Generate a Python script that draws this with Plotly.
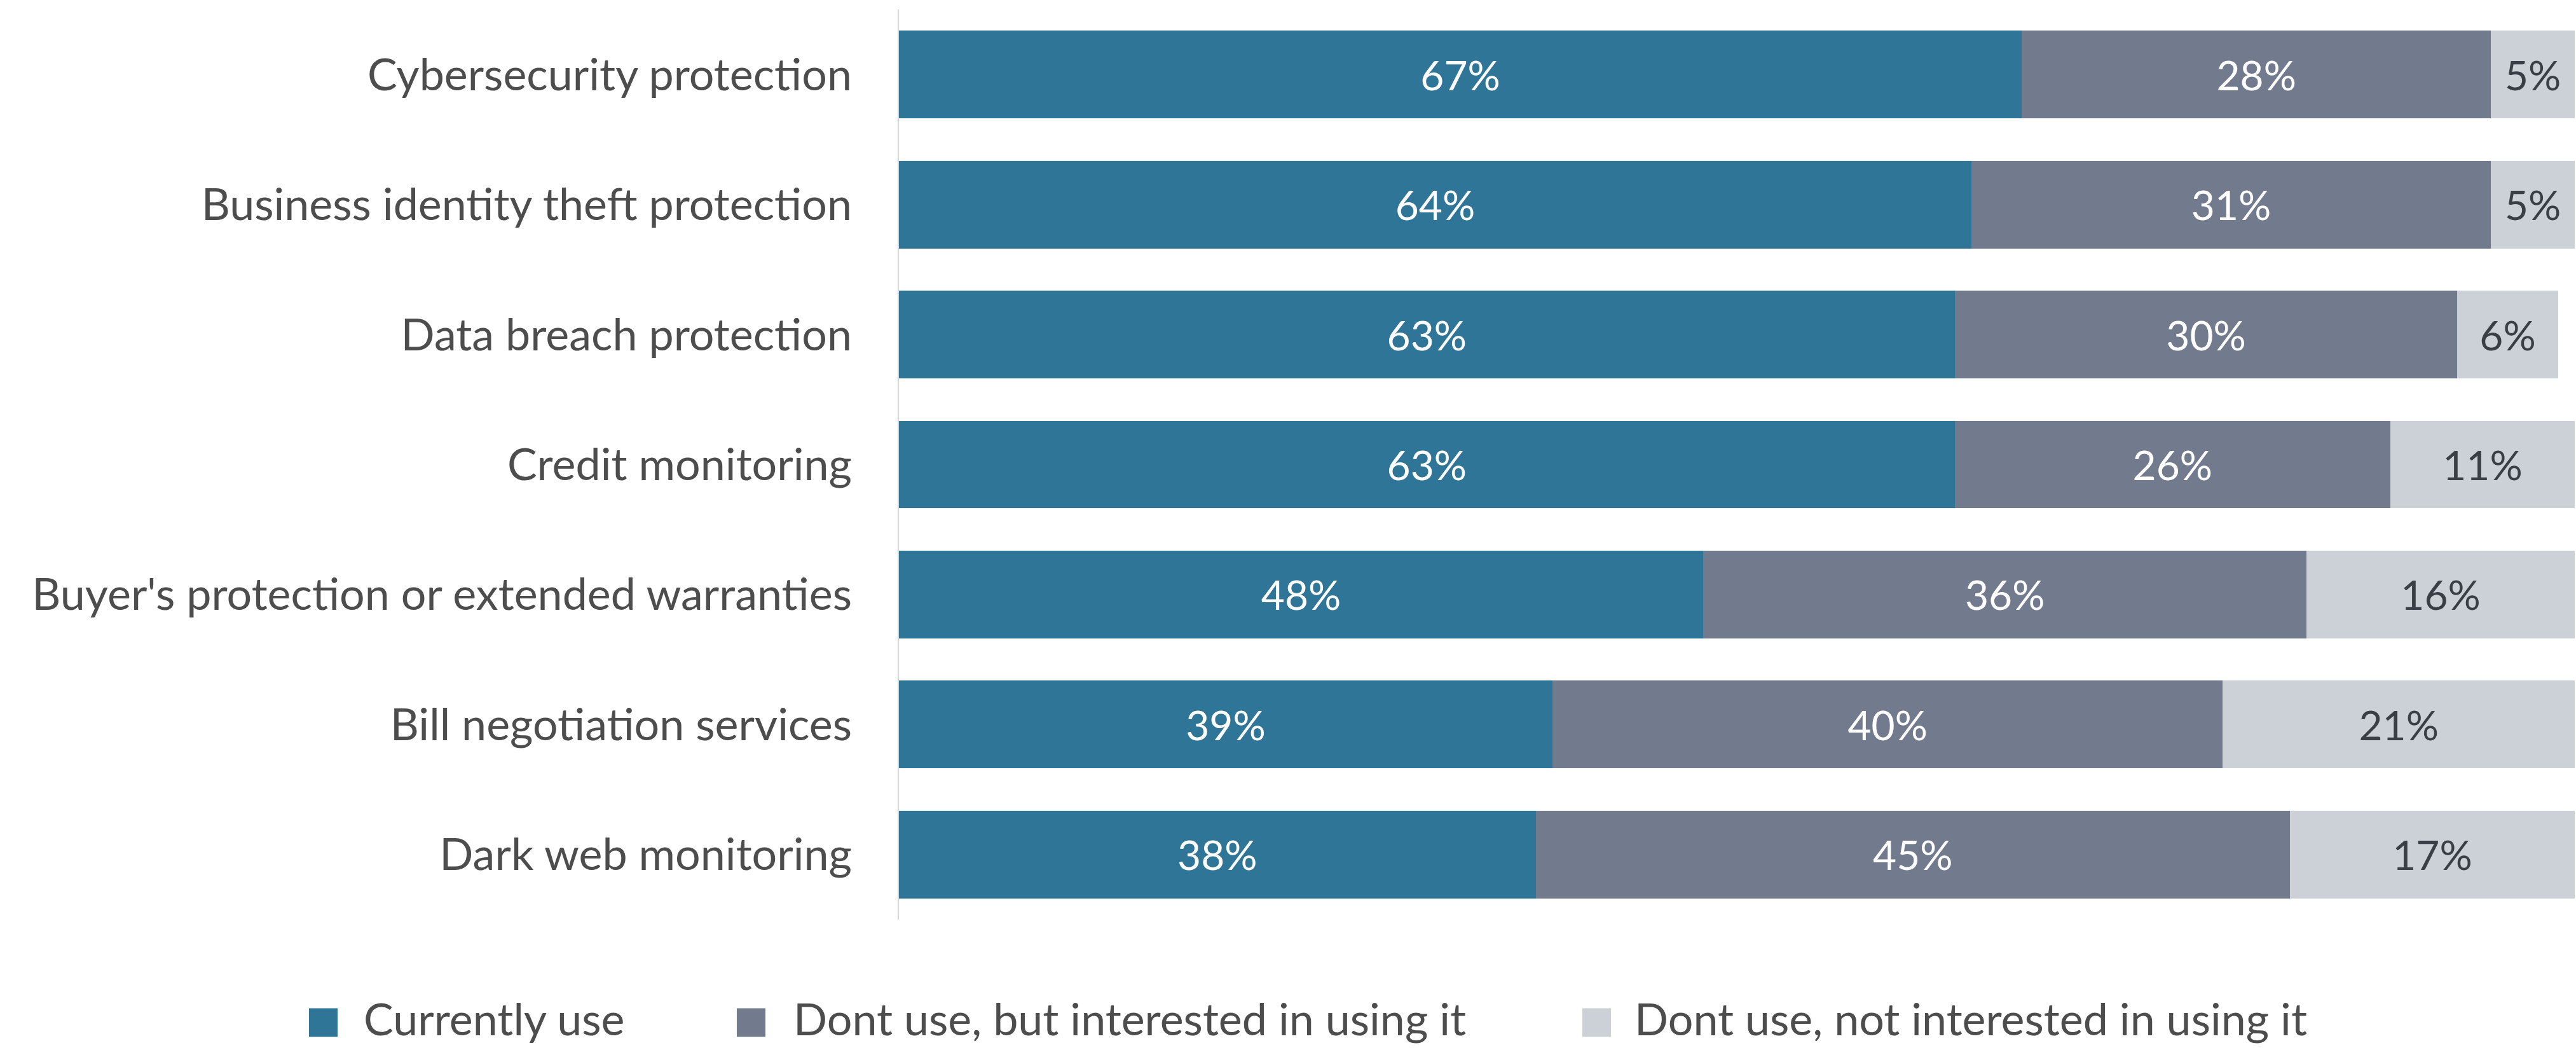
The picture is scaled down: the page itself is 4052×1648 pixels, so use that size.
import plotly.graph_objects as go

# Survey items (top to bottom) and share of respondents per answer
services = [
    "Cybersecurity protection",
    "Business identity theft protection",
    "Data breach protection",
    "Credit monitoring",
    "Buyer's protection or extended warranties",
    "Bill negotiation services",
    "Dark web monitoring",
]
currently_use = [67, 64, 63, 63, 48, 39, 38]
interested = [28, 31, 30, 26, 36, 40, 45]
not_interested = [5, 5, 6, 11, 16, 21, 17]

series_names = [
    "Currently use",
    "Dont use, but interested in using it",
    "Dont use, not interested in using it",
]
series_values = [currently_use, interested, not_interested]
series_colors = ["#2E7598", "#717B8D", "#CCD1D8"]
label_colors = ["#FFFFFF", "#FFFFFF", "#3A3F47"]

FONT = "Lato"
LABEL_SIZE = 70
VALUE_SIZE = 64
W, H = 4052, 1648
M_L, M_R, M_T, M_B = 1414, 2, 15, 202
PW, PH = W - M_L - M_R, H - M_T - M_B

fig = go.Figure()
for name, vals, col, tcol in zip(series_names, series_values, series_colors, label_colors):
    fig.add_trace(go.Bar(
        y=services,
        x=vals,
        name=name,
        orientation="h",
        marker=dict(color=col, line=dict(width=0)),
        text=[f"{v}%" for v in vals],
        textposition="inside",
        insidetextanchor="middle",
        textangle=0,
        constraintext="none",
        textfont=dict(family=FONT, size=VALUE_SIZE, color=tcol),
        showlegend=False,
    ))

# Legend drawn as square swatches with labels below the plot area
def px_to_paper_x(px):
    return (px - M_L) / PW

def px_to_paper_y(py):
    return (H - M_B - py) / PH

legend_swatch_x = [486, 1159, 2489]
legend_text_x = [570, 1246, 2569]
sw_size = 45
sw_center_y = 1608
text_center_y = 1601
for name, col, sx, tx in zip(series_names, series_colors, legend_swatch_x, legend_text_x):
    fig.add_shape(
        type="rect", xref="paper", yref="paper",
        x0=px_to_paper_x(sx), x1=px_to_paper_x(sx + sw_size),
        y0=px_to_paper_y(sw_center_y - sw_size / 2), y1=px_to_paper_y(sw_center_y + sw_size / 2),
        fillcolor=col, line=dict(width=0),
    )
    fig.add_annotation(
        xref="paper", yref="paper",
        x=px_to_paper_x(tx), y=px_to_paper_y(text_center_y),
        xanchor="left", yanchor="middle",
        text=name, showarrow=False,
        font=dict(family=FONT, size=LABEL_SIZE, color="#4D4D4D"),
    )

fig.update_layout(
    barmode="stack",
    bargap=0.325,
    width=W, height=H,
    margin=dict(l=M_L, r=M_R, t=M_T, b=M_B, pad=0),
    paper_bgcolor="white",
    plot_bgcolor="white",
    font=dict(family=FONT, size=LABEL_SIZE, color="#4D4D4D"),
    uniformtext=dict(mode=False),
    xaxis=dict(range=[0, 100], visible=False, fixedrange=True),
    yaxis=dict(
        autorange="reversed",
        showline=True, linecolor="#D6D6D6", linewidth=2,
        showgrid=False, zeroline=False,
        ticks="", ticklabelstandoff=58,
        tickfont=dict(family=FONT, size=LABEL_SIZE, color="#4D4D4D"),
    ),
)

fig.write_html("out.html")
